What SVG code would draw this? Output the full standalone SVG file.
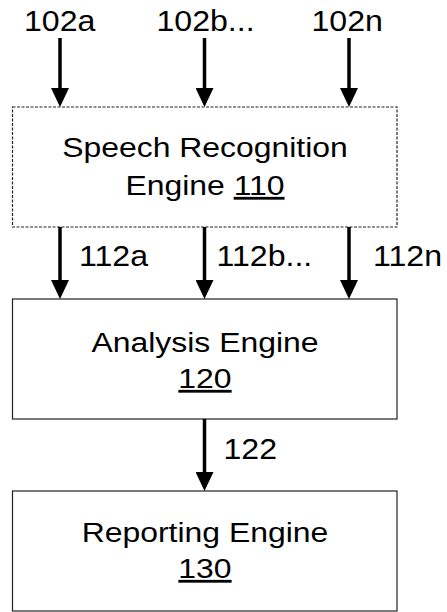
<svg xmlns="http://www.w3.org/2000/svg" width="447" height="612" viewBox="0 0 447 612">
  <style>
    .box { fill: #ffffff; stroke: #222222; stroke-width: 1.2; }
    .dashed { stroke-dasharray: 3 1.5; stroke: #222222; }
    .name { font-family: "Liberation Sans", Arial, sans-serif; font-size: 28px; fill: #000000; text-anchor: middle; }
    .ref { text-decoration: underline; }
    .label { font-family: "Liberation Sans", Arial, sans-serif; font-size: 30px; fill: #000000; }
    .wire { stroke: #000000; stroke-width: 3.5; fill: none; marker-end: url(#head); }
  </style>
  <defs>
    <marker id="head" markerUnits="userSpaceOnUse" viewBox="0 0 19 18" refX="10" refY="9" markerWidth="19" markerHeight="18" orient="auto">
      <path d="M0,0 L19,9 L0,18 z" fill="#000000"/>
    </marker>
  </defs>

  <rect width="447" height="612" fill="#ffffff"/>

  <!-- input labels -->
  <g id="inputs">
    <text class="label" transform="translate(24,31) scale(1.07,1)">102a</text>
    <text class="label" transform="translate(156.5,31) scale(1.07,1)">102b...</text>
    <text class="label" transform="translate(311.5,31) scale(1.07,1)">102n</text>
  </g>

  <g id="speech-recognition-engine">
    <rect class="box dashed" x="12.5" y="107" width="384.5" height="120"/>
    <text class="name" transform="translate(205,157) scale(1.14,1)">Speech Recognition</text>
    <text class="name" transform="translate(205,195) scale(1.14,1)">Engine <tspan class="ref">110</tspan></text>
  </g>

  <g id="analysis-engine">
    <rect class="box" x="12.5" y="299" width="384.5" height="120"/>
    <text class="name" transform="translate(205,352) scale(1.14,1)">Analysis Engine</text>
    <text class="name" transform="translate(205,388) scale(1.14,1)"><tspan class="ref">120</tspan></text>
  </g>

  <g id="reporting-engine">
    <rect class="box" x="12.5" y="491" width="384.5" height="120"/>
    <text class="name" transform="translate(205,542) scale(1.14,1)">Reporting Engine</text>
    <text class="name" transform="translate(205,578) scale(1.14,1)"><tspan class="ref">130</tspan></text>
  </g>

  <g id="connectors">
    <line class="wire" x1="60" y1="38" x2="60" y2="98"/>
    <line class="wire" x1="204.5" y1="38" x2="204.5" y2="98"/>
    <line class="wire" x1="349" y1="38" x2="349" y2="98"/>

    <line class="wire" x1="60" y1="227" x2="60" y2="290"/>
    <line class="wire" x1="204.5" y1="227" x2="204.5" y2="290"/>
    <line class="wire" x1="349" y1="227" x2="349" y2="290"/>

    <line class="wire" x1="204.5" y1="419" x2="204.5" y2="482"/>

    <text class="label" transform="translate(79,266) scale(1.07,1)">112a</text>
    <text class="label" transform="translate(216.5,266) scale(1.07,1)">112b...</text>
    <text class="label" transform="translate(373,266) scale(1.07,1)">112n</text>
    <text class="label" transform="translate(223.5,459) scale(1.07,1)">122</text>
  </g>
</svg>
